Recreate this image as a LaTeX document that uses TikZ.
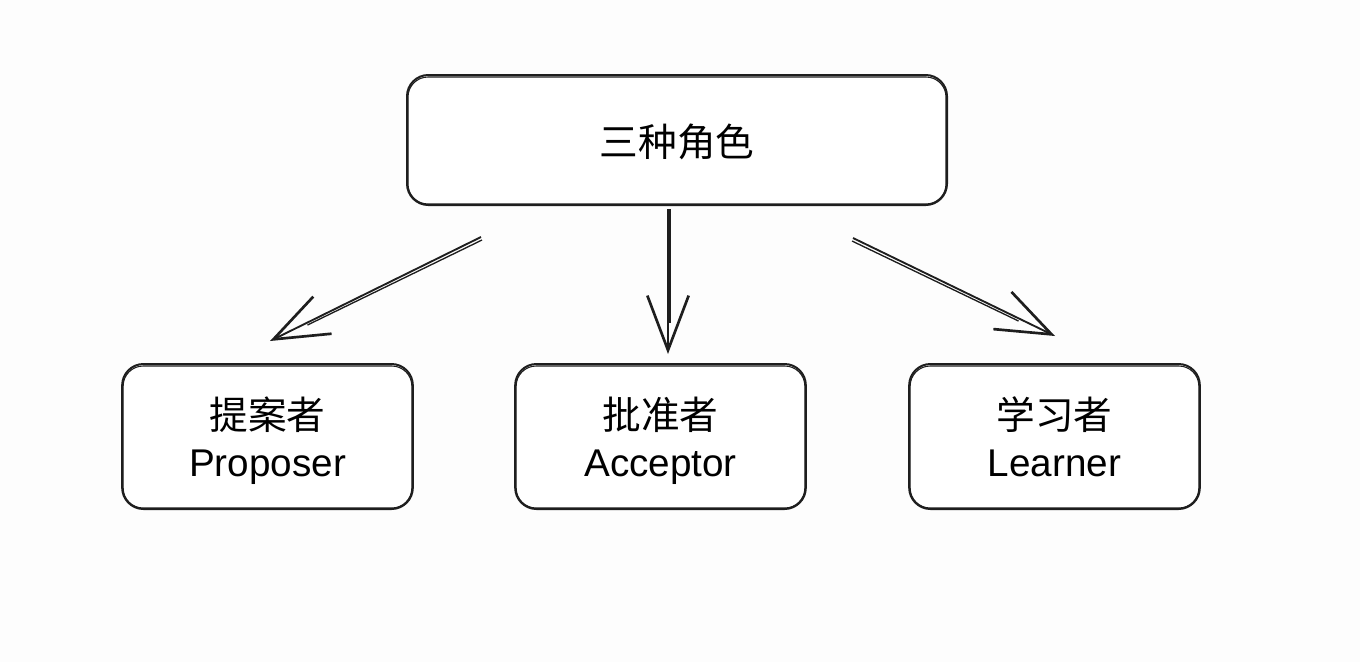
\documentclass[tikz,border=0pt]{standalone}
\usepackage{fontspec}
\setmainfont{Liberation Sans}
\newfontfamily\cjk{Noto Sans CJK SC}
\usetikzlibrary{arrows.meta,calc}
\definecolor{ink}{HTML}{1E1E1E}
\definecolor{bgc}{HTML}{FDFDFD}
\tikzset{
  box/.style={draw=ink, line width=1.5pt, rounded corners=16pt, fill=white, align=center,
    font=\fontsize{29}{35}\selectfont, text=black},
  topbox/.style={box, minimum width=405pt, minimum height=97.5pt, text height=26pt, text depth=2pt},
  subbox/.style={box, minimum width=218pt, minimum height=108.75pt, text depth=0pt},
  sketch/.style={draw=ink, line width=0.8pt, rounded corners=15pt},
  link/.style={draw=ink, line width=1.4pt, -{Straight Barb[length=41pt, width=31pt, line width=2pt]}},
  link2/.style={draw=ink, line width=1pt},
}
\begin{document}
\begin{tikzpicture}[x=0.75pt, y=-0.75pt]
\fill[bgc] (0,0) rectangle (1360,662);
\useasboundingbox (0,0) rectangle (1360,662);

\node[topbox] (top) at (677,140) {{\cjk 三种角色}};
\node[subbox] (left) at (267.5,436.5) {{\cjk 提案者}\\Proposer};
\node[subbox] (mid) at (660.5,436.5) {{\cjk 批准者}\\Acceptor};
\node[subbox] (right) at (1054.5,436.5) {{\cjk 学习者}\\Learner};

% sketchy second outlines
\foreach \n in {top,left,mid,right}{
  \draw[sketch] ($(\n.south west)+(2,-2)$) rectangle ($(\n.north east)+(-2,3)$);
}

% connectors
\draw[link] ($(top.south west)+(75,31)$) -- ($(left.north)+(2.5,-22)$);
\draw[link2] ($(top.south west)+(76,34)$) -- ($(left.north)+(40,-38)$);

\draw[link] ($(top.south)+(-9,3)$) -- ($(mid.north)+(7.5,-9)$);
\draw[link2] ($(top.south)+(-7,3)$) -- ($(mid.north)+(9.5,-40)$);

\draw[link] ($(top.south east)+(-95,32)$) -- ($(right.north)+(0.5,-27)$);
\draw[link2] ($(top.south east)+(-96,35)$) -- ($(right.north)+(-36,-42)$);
\end{tikzpicture}
\end{document}
